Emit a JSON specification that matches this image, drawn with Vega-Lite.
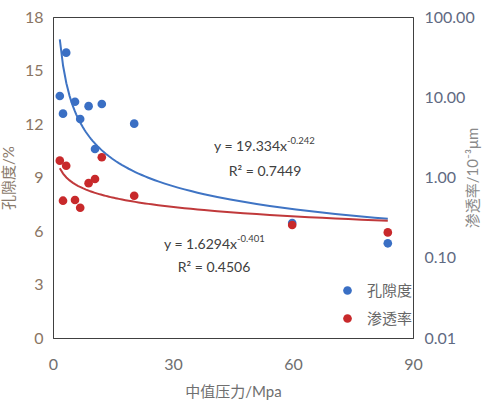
{
  "$schema": "https://vega.github.io/schema/vega-lite/v6.json",
  "width": 360,
  "height": 321,
  "autosize": {"type": "none"},
  "padding": {"left": 53, "top": 17, "right": 74, "bottom": 66},
  "background": "white",
  "config": {
    "font": "Lato, Noto Sans CJK SC, sans-serif",
    "view": {"stroke": "#404040", "strokeWidth": 1},
    "axis": {"grid": false, "ticks": false, "labelFlush": false, "domainColor": "#404040", "domainWidth": 1, "labelFontSize": 16, "titleFontSize": 15, "titleFontWeight": "normal", "labelFont": "Lato, sans-serif", "titleFont": "Lato, Noto Sans CJK SC, sans-serif"}
  },
  "datasets": {
    "samples": [
      {"pressure": 1.7, "porosity": 13.57, "permeability": 1.62},
      {"pressure": 2.5, "porosity": 12.58, "permeability": 0.514},
      {"pressure": 3.3, "porosity": 16.0, "permeability": 1.4},
      {"pressure": 5.5, "porosity": 13.25, "permeability": 0.525},
      {"pressure": 6.8, "porosity": 12.28, "permeability": 0.42},
      {"pressure": 8.9, "porosity": 13.0, "permeability": 0.85},
      {"pressure": 10.5, "porosity": 10.6, "permeability": 0.957},
      {"pressure": 12.2, "porosity": 13.12, "permeability": 1.79},
      {"pressure": 20.3, "porosity": 12.02, "permeability": 0.593},
      {"pressure": 59.8, "porosity": 6.45, "permeability": 0.256},
      {"pressure": 83.7, "porosity": 5.31, "permeability": 0.207}
    ],
    "labels": [
      {"px": 58.5, "py": 10.71, "text": "y = 19.334x", "kind": "main"},
      {"px": 58.5, "py": 10.71, "text": "-0.242", "kind": "sup"},
      {"px": 53, "py": 9.31, "text": "R² = 0.7449", "kind": "r2"},
      {"px": 46, "py": 5.22, "text": "y = 1.6294x", "kind": "main"},
      {"px": 46, "py": 5.22, "text": "-0.401", "kind": "sup"},
      {"px": 40.25, "py": 3.93, "text": "R² = 0.4506", "kind": "r2"}
    ]
  },
  "layer": [
    {
      "layer": [
        {
          "data": {"name": "samples"},
          "transform": [{"regression": "porosity", "on": "pressure", "method": "pow"}],
          "mark": {"type": "line", "color": "#3f74c4", "strokeWidth": 2},
          "encoding": {
            "x": {"field": "pressure", "type": "quantitative"},
            "y": {"field": "porosity", "type": "quantitative"}
          }
        },
        {
          "data": {"name": "samples"},
          "mark": {"type": "point", "filled": true, "shape": "circle", "size": 75, "opacity": 1},
          "encoding": {
            "x": {"field": "pressure", "type": "quantitative", "scale": {"domain": [0, 90], "nice": false},
              "axis": {"values": [0, 30, 60, 90], "title": "中值压力/Mpa", "labelColor": "#6f6f6f", "titleColor": "#6f6f6f", "labelPadding": 18, "titlePadding": 12}},
            "y": {"field": "porosity", "type": "quantitative", "scale": {"domain": [0, 18], "nice": false},
              "axis": {"values": [0, 3, 6, 9, 12, 15, 18], "title": "孔隙度/%", "labelColor": "#8a7563", "titleColor": "#8a7a6c", "labelPadding": 10, "titlePadding": 8}},
            "color": {"datum": "孔隙度", "type": "nominal",
              "scale": {"domain": ["孔隙度", "渗透率"], "range": ["#3a6fc4", "#c8292b"]},
              "legend": {"title": null, "orient": "none", "legendX": 287, "legendY": 266, "symbolType": "circle", "symbolSize": 75, "labelFontSize": 15, "labelColor": "#666666", "rowPadding": 12, "labelOffset": 12, "labelFont": "Noto Sans CJK SC"}}
          }
        },
        {
          "data": {"name": "labels"},
          "transform": [{"filter": "datum.kind === 'main'"}],
          "mark": {"type": "text", "align": "right", "baseline": "middle", "fontSize": 14, "color": "#404040"},
          "encoding": {
            "x": {"field": "px", "type": "quantitative"},
            "y": {"field": "py", "type": "quantitative"},
            "text": {"field": "text"}
          }
        },
        {
          "data": {"name": "labels"},
          "transform": [{"filter": "datum.kind === 'sup'"}],
          "mark": {"type": "text", "align": "left", "baseline": "middle", "fontSize": 9.5, "dy": -6, "color": "#404040"},
          "encoding": {
            "x": {"field": "px", "type": "quantitative"},
            "y": {"field": "py", "type": "quantitative"},
            "text": {"field": "text"}
          }
        },
        {
          "data": {"name": "labels"},
          "transform": [{"filter": "datum.kind === 'r2'"}],
          "mark": {"type": "text", "align": "center", "baseline": "middle", "fontSize": 14, "color": "#404040"},
          "encoding": {
            "x": {"field": "px", "type": "quantitative"},
            "y": {"field": "py", "type": "quantitative"},
            "text": {"field": "text"}
          }
        }
      ]
    },
    {
      "layer": [
        {
          "data": {"name": "samples"},
          "transform": [{"regression": "permeability", "on": "pressure", "method": "pow"}],
          "mark": {"type": "line", "color": "#c0393b", "strokeWidth": 2},
          "encoding": {
            "x": {"field": "pressure", "type": "quantitative"},
            "y": {"field": "permeability", "type": "quantitative"}
          }
        },
        {
          "data": {"name": "samples"},
          "mark": {"type": "point", "filled": true, "shape": "circle", "size": 75, "opacity": 1},
          "encoding": {
            "x": {"field": "pressure", "type": "quantitative"},
            "y": {"field": "permeability", "type": "quantitative", "scale": {"type": "log", "domain": [0.01, 100], "nice": false},
              "axis": {"orient": "right", "values": [0.01, 0.1, 1, 10, 100], "format": ".2f", "title": "渗透率/10⁻³μm", "titleAngle": 270, "labelColor": "#5f6a82", "titleColor": "#8a8a8a", "labelPadding": 11, "titlePadding": 6}},
            "color": {"datum": "渗透率", "type": "nominal"}
          }
        }
      ]
    }
  ],
  "resolve": {"scale": {"y": "independent"}}
}
